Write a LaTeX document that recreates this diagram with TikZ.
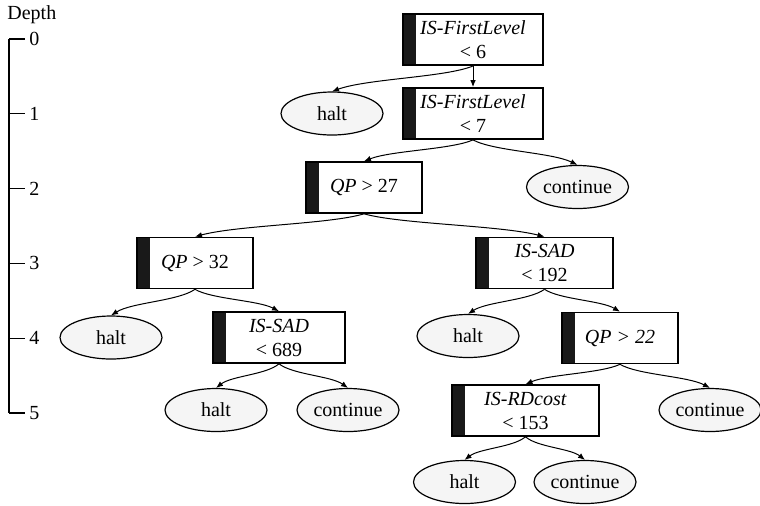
\documentclass[tikz,border=0pt]{standalone}
\usepackage{fontspec}
\setmainfont{Liberation Serif}
\usetikzlibrary{arrows.meta,shapes.geometric,calc}

\begin{document}
\begin{tikzpicture}[
    x=0.5pt, y=-0.5pt,
    test/.style={rectangle, draw, line width=0.8pt, minimum height=25.5pt, align=center, font=\normalsize,
      path picture={\fill[black!90] (path picture bounding box.north west) rectangle ([xshift=6.5pt]path picture bounding box.south west);}},
    leaf/.style={ellipse, draw, line width=0.6pt, fill=gray!8, minimum width=51pt, minimum height=21.5pt, inner sep=0pt},
    arrow/.style={-{Latex[length=3.5pt,width=2.8pt]}, line width=0.5pt},
    depthlabel/.style={anchor=west, inner sep=2pt}
]
  \useasboundingbox (0,0) rectangle (760,505);

  % Depth axis
  \node[anchor=west, inner sep=0pt] (depth) at (7,15) {Depth};
  \coordinate (axistop) at (9,39);
  \coordinate (axisbot) at (9,413);
  \draw[line width=0.6pt] (axistop) -- (axisbot);
  \foreach \d in {0,...,5} {
    \node[depthlabel] (d\d) at (25,39+74.8*\d) {\d};
    \draw[line width=0.6pt] (9,39+74.8*\d) -- (d\d.west);
  }

  % Tests
  \node[test, minimum width=70pt] (fl6) at (473,39.5) {\textit{IS-FirstLevel}\\< 6};
  \node[test, minimum width=70pt] (fl7) at (473,113.5) {\textit{IS-FirstLevel}\\< 7};
  \node[test, minimum width=58pt] (qp27) at (364,187.5) {\textit{QP} > 27};
  \node[test, minimum width=58pt] (qp32) at (195,263) {\textit{QP} > 32};
  \node[test, minimum width=68.5pt] (sad192) at (544.5,263) {\textit{IS-SAD}\\< 192};
  \node[test, minimum width=66pt] (sad689) at (279,337.5) {\textit{IS-SAD}\\< 689};
  \node[test, minimum width=58pt] (qp22) at (620,338) {\textit{QP > 22}};
  \node[test, minimum width=73.5pt] (rd153) at (525.5,410.5) {\textit{IS-RDcost}\\< 153};

  % Leaves
  \node[leaf] (halt1) at (332,113.5) {halt};
  \node[leaf] (cont1) at (577.5,187) {continue};
  \node[leaf] (halt2) at (111,337.5) {halt};
  \node[leaf] (halt3) at (468,336) {halt};
  \node[leaf] (halt4) at (216,410) {halt};
  \node[leaf] (cont2) at (348,410) {continue};
  \node[leaf] (cont3) at (710,410) {continue};
  \node[leaf] (halt5) at (464.5,482) {halt};
  \node[leaf] (cont4) at (585,482) {continue};

  % Edges
  \draw[arrow] (fl6.south) -- (fl7.north);
  \foreach \from/\to in {fl6/halt1, fl7/qp27, fl7/cont1, qp27/qp32, qp27/sad192,
      qp32/halt2, qp32/sad689, sad192/halt3, sad192/qp22, sad689/halt4, sad689/cont2,
      qp22/rd153, qp22/cont3, rd153/halt5, rd153/cont4}
    \draw[arrow] let \p1=(\from.south), \p2=(\to.north) in
      (\p1) .. controls ({\x1+0.2*(\x2-\x1)},{\y1+0.45*(\y2-\y1)})
               and ({\x2-0.25*(\x2-\x1)},{\y2-0.5*(\y2-\y1)}) .. (\p2);
\end{tikzpicture}
\end{document}
